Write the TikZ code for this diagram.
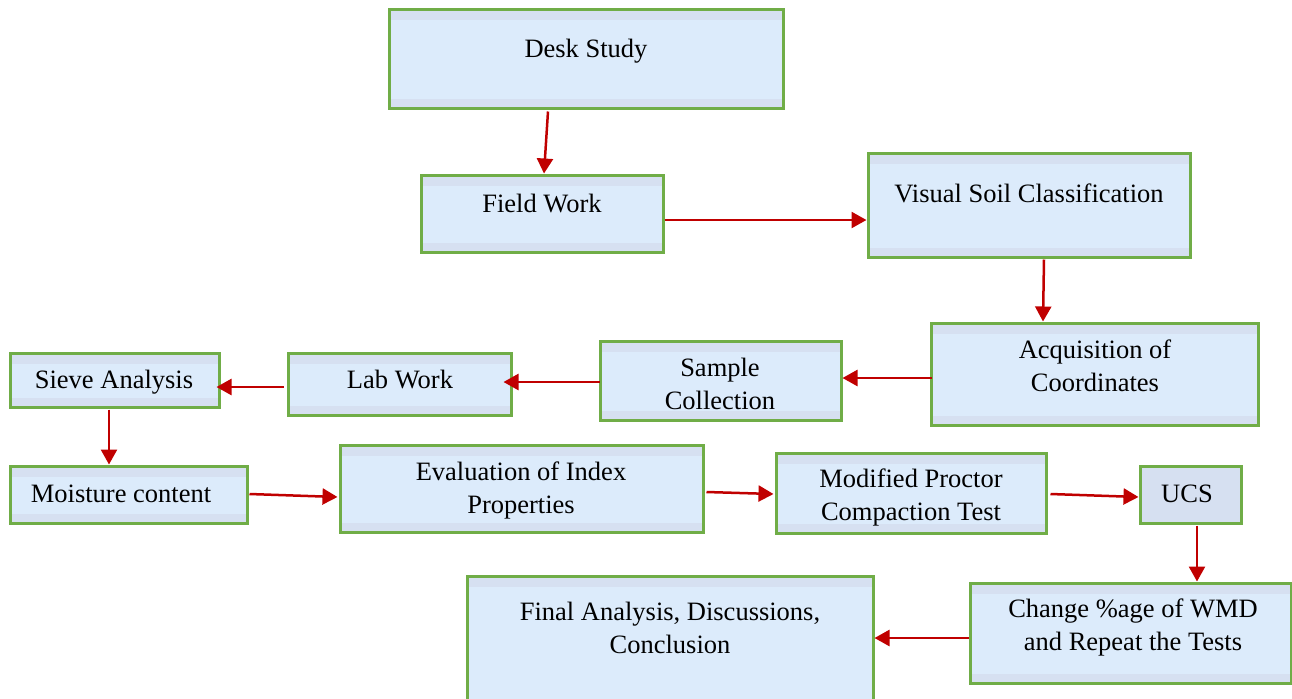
\documentclass[tikz,border=0pt]{standalone}
\usepackage{fontspec}
\setmainfont{Liberation Serif}
\usetikzlibrary{arrows.meta,calc,fit}
\definecolor{boxgreen}{HTML}{70AD47}
\definecolor{boxfill}{HTML}{DCEBFB}
\definecolor{boxband}{HTML}{D6E0F1}
\definecolor{flowred}{HTML}{C00000}
\tikzset{
  stage/.style={rectangle, draw=boxgreen, line width=1.5pt, fill=boxfill, inner sep=0pt,
    path picture={
      \fill[boxband] (path picture bounding box.north west) rectangle ([yshift=-5.5pt]path picture bounding box.north east);
      \fill[boxband] (path picture bounding box.south west) rectangle ([yshift=4.5pt]path picture bounding box.south east);
    }},
  plainstage/.style={rectangle, draw=boxgreen, line width=1.5pt, fill=boxband, inner sep=0pt},
  stagetext/.style={font=\fontsize{13.25}{16.5}\selectfont, align=center, inner sep=0pt, anchor=base},
  flow/.style={draw=flowred, line width=1.25pt, -{Triangle[length=7.5pt,width=8pt]}},
}
\begin{document}
\begin{tikzpicture}[x=0.5pt,y=-0.5pt]
\useasboundingbox (0,0) rectangle (1292,698);

% process boxes
\node[stage, fit={(389,9)(783,108)}]      (desk)    {};
\node[stage, fit={(421,175)(663,252)}]    (field)   {};
\node[stage, fit={(868,153)(1190,257)}]   (visual)  {};
\node[stage, fit={(931,323)(1258,425)}]   (acq)     {};
\node[stage, fit={(600,341)(841,420)}]    (sample)  {};
\node[stage, fit={(288,353)(511,415)}]    (lab)     {};
\node[stage, fit={(10,353)(219,407)}]     (sieve)   {};
\node[stage, fit={(10,466)(247,523)}]     (moist)   {};
\node[stage, fit={(340,445)(703,532)}]    (evalp)   {};
\node[stage, fit={(776,453)(1046,533)}]   (proctor) {};
\node[plainstage, fit={(1140,466)(1241,523)}] (ucs) {};
\node[stage, fit={(970,583)(1291,683)}]   (change)  {};
\node[stage, fit={(467,576)(873,712)}]    (final)   {};

% box captions (base = baseline of the last line)
\node[stagetext] (desk-l)    at (586,57)   {Desk Study};
\node[stagetext] (field-l)   at (542,212)  {Field Work};
\node[stagetext] (visual-l)  at (1029,202) {Visual Soil Classification};
\node[stagetext] (acq-l)     at (1095,391) {Acquisition of\\Coordinates};
\node[stagetext] (sample-l)  at (720,409)  {Sample\\Collection};
\node[stagetext] (lab-l)     at (400,388)  {Lab Work};
\node[stagetext] (sieve-l)   at (114,388)  {Sieve Analysis};
\node[stagetext] (moist-l)   at (121,502)  {Moisture content};
\node[stagetext] (evalp-l)   at (521,513)  {Evaluation of Index\\Properties};
\node[stagetext] (proctor-l) at (911,520)  {Modified Proctor\\Compaction Test};
\node[stagetext] (ucs-l)     at (1187,502) {UCS};
\node[stagetext] (change-l)  at (1133,650) {Change \%age of WMD\\and Repeat the Tests};
\node[stagetext] (final-l)   at (670,653)  {Final Analysis, Discussions,\\Conclusion};

% flow connectors
\draw[flow] ($(desk.south)+(-38,2)$)   -- ($(field.north)+(2,0)$);
\draw[flow] ($(field.east)+(0,6.5)$)   -- ($(visual.west)+(0,15)$);
\draw[flow] ($(visual.south)+(15,1)$)  -- ($(acq.north)+(-51.5,0)$);
\draw[flow] ($(acq.west)+(2,4)$)       -- ($(sample.east)+(0,-2.5)$);
\draw[flow] ($(sample.west)+(1,1.5)$)  -- ($(lab.east)+(-9,-2)$);
\draw[flow] ($(lab.west)+(-3,3)$)      -- ($(sieve.east)+(-4,7)$);
\draw[flow] ($(sieve.south)+(-5.5,1)$) -- ($(moist.north)+(-19.5,0)$);
\draw[flow] ($(moist.east)+(1,-0.5)$)  -- ($(evalp.west)+(-1,8.5)$);
\draw[flow] ($(evalp.east)+(2,3.5)$)   -- ($(proctor.west)+(-1,1)$);
\draw[flow] ($(proctor.east)+(3,1)$)   -- ($(ucs.west)+(0,2.5)$);
\draw[flow] ($(ucs.south)+(6.5,1)$)    -- ($(change.north)+(66.5,0)$);
\draw[flow] ($(change.west)+(0,5)$)    -- ($(final.east)+(0,-6)$);
\end{tikzpicture}
\end{document}
